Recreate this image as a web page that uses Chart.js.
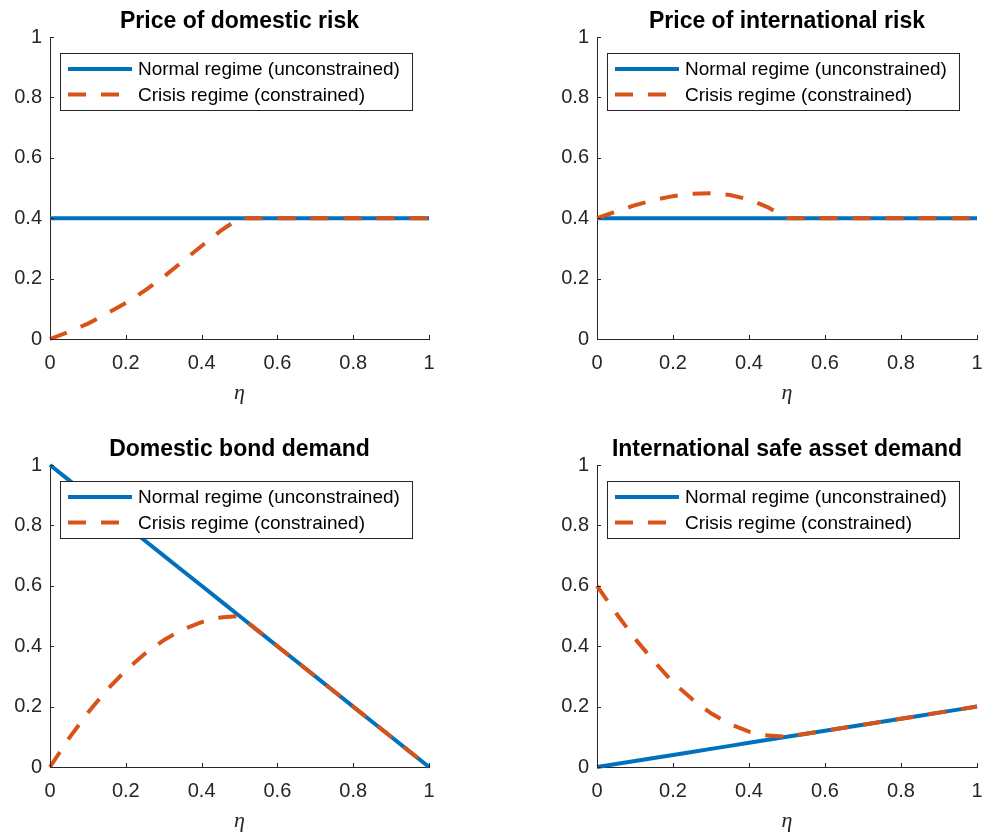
<!DOCTYPE html>
<html>
<head>
<meta charset="utf-8">
<script src="https://cdn.jsdelivr.net/npm/chart.js@4.4.1/dist/chart.umd.min.js"></script>
<style>
  html, body { margin: 0; padding: 0; background: #fff; }
  #fig { position: relative; width: 984px; height: 837px; overflow: hidden; background: #fff; }
  .panel { position: absolute; }
</style>
</head>
<body>
<div id="fig">
  <div class="panel" style="left:0;top:0;width:547px;height:409px"><canvas id="p0"></canvas></div>
  <div class="panel" style="left:547px;top:0;width:470px;height:409px"><canvas id="p1"></canvas></div>
  <div class="panel" style="left:0;top:428px;width:547px;height:409px"><canvas id="p2"></canvas></div>
  <div class="panel" style="left:547px;top:428px;width:470px;height:409px"><canvas id="p3"></canvas></div>
</div>
<script>
// Grid of eta values
const ETA = [0, 0.05, 0.1, 0.15, 0.2, 0.25, 0.3, 0.35, 0.4, 0.45, 0.5,
             0.55, 0.6, 0.65, 0.7, 0.75, 0.8, 0.85, 0.9, 0.95, 1];

// Price of domestic risk
const DOM_RISK_NORMAL = [0.4, 0.4, 0.4, 0.4, 0.4, 0.4, 0.4, 0.4, 0.4, 0.4, 0.4,
                         0.4, 0.4, 0.4, 0.4, 0.4, 0.4, 0.4, 0.4, 0.4, 0.4];
const DOM_RISK_CRISIS = [0, 0.024, 0.051, 0.084, 0.119, 0.16, 0.206, 0.257, 0.308, 0.358, 0.4,
                         0.4, 0.4, 0.4, 0.4, 0.4, 0.4, 0.4, 0.4, 0.4, 0.4];

// Price of international risk
const INT_RISK_NORMAL = [0.4, 0.4, 0.4, 0.4, 0.4, 0.4, 0.4, 0.4, 0.4, 0.4, 0.4,
                         0.4, 0.4, 0.4, 0.4, 0.4, 0.4, 0.4, 0.4, 0.4, 0.4];
const INT_RISK_CRISIS = [0.4, 0.422, 0.443, 0.46, 0.473, 0.481, 0.483, 0.477, 0.462, 0.436, 0.4,
                         0.4, 0.4, 0.4, 0.4, 0.4, 0.4, 0.4, 0.4, 0.4, 0.4];

// Domestic bond demand
const DOM_BOND_NORMAL = [1, 0.95, 0.9, 0.85, 0.8, 0.75, 0.7, 0.65, 0.6, 0.55, 0.5,
                         0.45, 0.4, 0.35, 0.3, 0.25, 0.2, 0.15, 0.1, 0.05, 0];
const DOM_BOND_CRISIS = [0, 0.095, 0.18, 0.255, 0.32, 0.375, 0.42, 0.455, 0.48, 0.495, 0.5,
                         0.45, 0.4, 0.35, 0.3, 0.25, 0.2, 0.15, 0.1, 0.05, 0];

// International safe asset demand
const INT_SAFE_NORMAL = [0, 0.01, 0.02, 0.03, 0.04, 0.05, 0.06, 0.07, 0.08, 0.09, 0.1,
                         0.11, 0.12, 0.13, 0.14, 0.15, 0.16, 0.17, 0.18, 0.19, 0.2];
const INT_SAFE_CRISIS = [0.6, 0.51, 0.425, 0.35, 0.28, 0.225, 0.178, 0.142, 0.117, 0.104, 0.1,
                         0.11, 0.12, 0.13, 0.14, 0.15, 0.16, 0.17, 0.18, 0.19, 0.2];

const X_TICKS = [0, 0.2, 0.4, 0.6, 0.8, 1];
const Y_TICKS = [0, 0.2, 0.4, 0.6, 0.8, 1];

const TITLES = ['Price of domestic risk', 'Price of international risk',
                'Domestic bond demand', 'International safe asset demand'];
const SERIES_NAMES = ['Normal regime (unconstrained)', 'Crisis regime (constrained)'];

const BLUE = '#0072BD';
const ORANGE = '#D95319';
const AXIS = '#262626';
const SANS = '"Liberation Sans", Arial, Helvetica, sans-serif';
const DASH = [18, 15];

// Titles, inward tick marks and boxed legend inside the axes
const panelDecor = {
  id: 'panelDecor',
  afterDraw(chart, args, opts) {
    const { ctx, chartArea: a } = chart;
    ctx.save();

    // inward ticks
    ctx.strokeStyle = AXIS;
    ctx.lineWidth = 1;
    const xs = chart.scales.x, ys = chart.scales.y;
    xs.ticks.forEach(t => {
      const px = Math.round(xs.getPixelForValue(t.value)) + 0.5;
      ctx.beginPath(); ctx.moveTo(px, a.bottom); ctx.lineTo(px, a.bottom - 4); ctx.stroke();
    });
    ys.ticks.forEach(t => {
      const py = Math.round(ys.getPixelForValue(t.value)) + 0.5;
      ctx.beginPath(); ctx.moveTo(a.left, py); ctx.lineTo(a.left + 4, py); ctx.stroke();
    });

    // title
    ctx.fillStyle = '#000';
    ctx.font = 'bold 23px ' + SANS;
    ctx.textAlign = 'center';
    ctx.textBaseline = 'middle';
    ctx.fillText(opts.title, (a.left + a.right) / 2, 21.5);

    // legend
    const bx = Math.round(a.left + 10) + 0.5, by = Math.round(a.top + 16) + 0.5;
    const bw = 352, bh = 57;
    ctx.fillStyle = '#fff';
    ctx.fillRect(bx, by, bw, bh);
    ctx.strokeStyle = AXIS;
    ctx.lineWidth = 1;
    ctx.strokeRect(bx, by, bw, bh);
    const rows = [a.top + 32, a.top + 57.5];
    chart.data.datasets.forEach((ds, i) => {
      const y = rows[i];
      ctx.save();
      ctx.strokeStyle = ds.borderColor;
      ctx.lineWidth = ds.borderWidth;
      ctx.setLineDash(ds.borderDash || []);
      ctx.beginPath();
      ctx.moveTo(a.left + 18, y);
      ctx.lineTo(a.left + 82, y);
      ctx.stroke();
      ctx.restore();
      ctx.fillStyle = '#000';
      ctx.font = '19px ' + SANS;
      ctx.textAlign = 'left';
      ctx.textBaseline = 'middle';
      ctx.fillText(ds.label, a.left + 88, y + 1);
    });
    ctx.restore();
  }
};

function points(series) {
  return ETA.map((x, i) => ({ x: x, y: series[i] }));
}

function makePanel(id, title, normal, crisis, rightPad) {
  new Chart(document.getElementById(id), {
    type: 'line',
    data: {
      datasets: [
        { label: SERIES_NAMES[0], data: points(normal), borderColor: BLUE, borderWidth: 4,
          pointRadius: 0, tension: 0, clip: false, order: 1 },
        { label: SERIES_NAMES[1], data: points(crisis), borderColor: ORANGE, borderWidth: 4,
          borderDash: DASH, borderCapStyle: 'butt', pointRadius: 0, tension: 0, clip: false, order: 0 }
      ]
    },
    options: {
      responsive: true,
      maintainAspectRatio: false,
      animation: false,
      events: [],
      layout: { padding: { left: 0, top: 37, right: rightPad, bottom: 0 } },
      plugins: {
        legend: { display: false },
        title: { display: false },
        tooltip: { enabled: false },
        panelDecor: { title: title }
      },
      scales: {
        x: {
          type: 'linear', min: 0, max: 1,
          afterBuildTicks: s => { s.ticks = X_TICKS.map(v => ({ value: v })); },
          afterFit: s => { s.height = 70; },
          grid: { display: false, drawTicks: false, tickLength: 0 },
          border: { display: true, color: AXIS, width: 1 },
          ticks: { color: AXIS, font: { family: SANS, size: 20 }, padding: 12,
                   maxRotation: 0, autoSkip: false, callback: v => String(v) },
          title: { display: true, text: 'η', color: AXIS,
                   font: { family: '"Liberation Serif", "DejaVu Serif", serif', size: 22, style: 'italic' },
                   padding: { top: 0, bottom: 3 } }
        },
        y: {
          type: 'linear', min: 0, max: 1,
          afterBuildTicks: s => { s.ticks = Y_TICKS.map(v => ({ value: v })); },
          afterFit: s => { s.width = 50; },
          grid: { display: false, drawTicks: false, tickLength: 0 },
          border: { display: true, color: AXIS, width: 1 },
          ticks: { color: AXIS, font: { family: SANS, size: 20 }, padding: 8,
                   autoSkip: false, callback: v => String(v) }
        }
      }
    },
    plugins: [panelDecor]
  });
}

makePanel('p0', TITLES[0], DOM_RISK_NORMAL, DOM_RISK_CRISIS, 118);
makePanel('p1', TITLES[1], INT_RISK_NORMAL, INT_RISK_CRISIS, 40);
makePanel('p2', TITLES[2], DOM_BOND_NORMAL, DOM_BOND_CRISIS, 118);
makePanel('p3', TITLES[3], INT_SAFE_NORMAL, INT_SAFE_CRISIS, 40);
</script>
</body>
</html>
